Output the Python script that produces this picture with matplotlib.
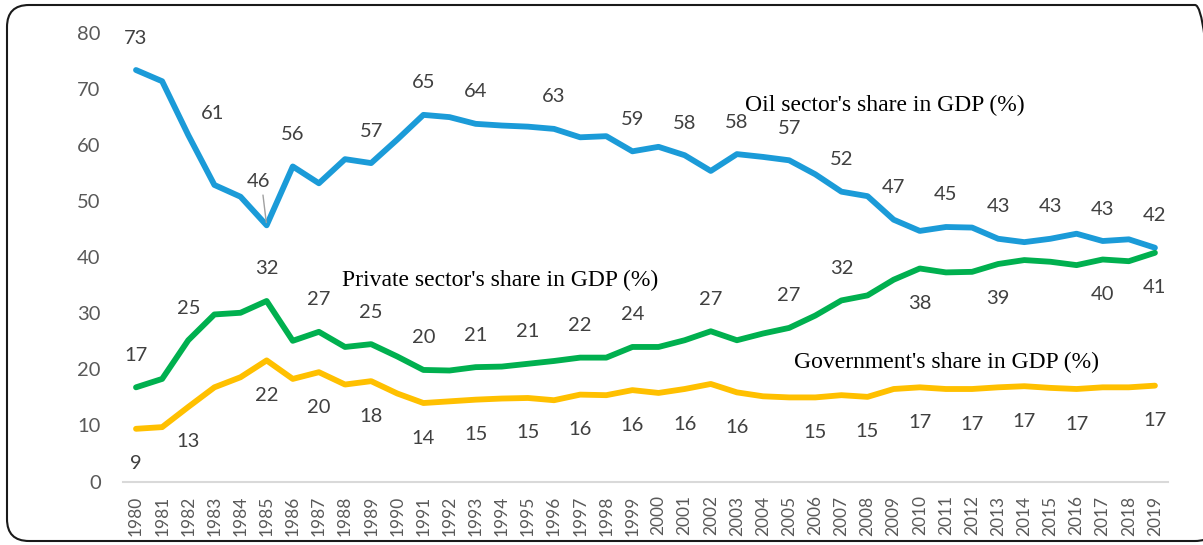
import matplotlib
matplotlib.use("Agg")
import matplotlib.pyplot as plt
from matplotlib.patches import FancyBboxPatch

years = list(range(1980, 2020))

oil_share = [73.4, 71.4, 61.8, 52.9, 50.8, 45.7, 56.2, 53.2, 57.5, 56.8,
             61.0, 65.4, 65.0, 63.8, 63.5, 63.3, 62.9, 61.4, 61.6, 58.9,
             59.7, 58.2, 55.4, 58.4, 57.9, 57.3, 54.8, 51.7, 50.9, 46.7,
             44.7, 45.4, 45.3, 43.3, 42.7, 43.3, 44.2, 42.9, 43.2, 41.7]
private_share = [16.8, 18.3, 25.2, 29.8, 30.1, 32.2, 25.1, 26.7, 24.0, 24.5,
                 22.3, 19.9, 19.8, 20.4, 20.5, 21.0, 21.5, 22.1, 22.1, 24.0,
                 24.0, 25.2, 26.8, 25.2, 26.4, 27.4, 29.6, 32.3, 33.2, 36.0,
                 38.0, 37.3, 37.4, 38.8, 39.5, 39.2, 38.6, 39.6, 39.3, 40.8]
gov_share = [9.4, 9.7, 13.3, 16.8, 18.6, 21.6, 18.3, 19.5, 17.3, 17.9,
             15.7, 14.0, 14.3, 14.6, 14.8, 14.9, 14.5, 15.5, 15.4, 16.3,
             15.8, 16.5, 17.4, 15.9, 15.2, 15.0, 15.0, 15.4, 15.1, 16.5,
             16.8, 16.5, 16.5, 16.8, 17.0, 16.7, 16.5, 16.8, 16.8, 17.1]

# data labels shown on the chart
oil_lbl_years = [1980, 1982, 1985, 1986, 1989, 1991, 1993, 1996, 1999, 2001,
                 2003, 2005, 2007, 2009, 2011, 2013, 2015, 2017, 2019]
oil_lbl_text = [73, 61, 46, 56, 57, 65, 64, 63, 59, 58,
                58, 57, 52, 47, 45, 43, 43, 43, 42]
private_lbl_years = [1980, 1982, 1985, 1987, 1989, 1991, 1993, 1995, 1997, 1999,
                     2002, 2005, 2007, 2010, 2013, 2017, 2019]
private_lbl_text = [17, 25, 32, 27, 25, 20, 21, 21, 22, 24,
                    27, 27, 32, 38, 39, 40, 41]
gov_lbl_years = [1980, 1982, 1985, 1987, 1989, 1991, 1993, 1995, 1997, 1999,
                 2001, 2003, 2006, 2008, 2010, 2012, 2014, 2016, 2019]
gov_lbl_text = [9, 13, 22, 20, 18, 14, 15, 15, 16, 16,
                16, 16, 15, 15, 17, 17, 17, 17, 17]

BLUE = "#1b9bd8"
GREEN = "#00b04f"
GOLD = "#ffc000"
LBL = "#404040"
num_font = ["Lato", "DejaVu Sans"]
serif_font = ["Liberation Serif", "DejaVu Serif"]

fig = plt.figure(figsize=(12.03, 5.45), dpi=100)
ax = fig.add_axes([0.1022, 0.1165, 0.8687, 0.8229])

for vals, col in [(oil_share, BLUE), (private_share, GREEN), (gov_share, GOLD)]:
    ax.plot(years, vals, color=col, lw=4.2, solid_joinstyle="round", solid_capstyle="round")


def put_labels(values, lbl_years, lbl_text, below_from=None, below_all=False, special=None):
    special = special or {}
    for yr, txt in zip(lbl_years, lbl_text):
        v = values[years.index(yr)]
        below = below_all or (below_from is not None and yr >= below_from)
        off = (0, -35) if below else (0, 32)
        if yr in special:
            off = special[yr]
        ax.annotate(str(txt), (yr, v), xytext=off, textcoords="offset pixels",
                    ha="center", va="center", fontsize=14.5, color=LBL,
                    family=num_font)


put_labels(oil_share, oil_lbl_years, oil_lbl_text, special={1982: (24, 22), 1985: (-8, 44)})
put_labels(private_share, private_lbl_years, private_lbl_text, below_from=2010)
put_labels(gov_share, gov_lbl_years, gov_lbl_text, below_all=True)

# leader line for the 1985 oil label
ax.annotate("", (1985, oil_share[5]), xytext=(-4, 33), textcoords="offset pixels",
            arrowprops=dict(arrowstyle="-", color="#a0a0a0", lw=1))

# series names
ax.text(2003.3, 67.0, "Oil sector's share in GDP (%)", fontsize=17, family=serif_font,
        color="black", va="center", ha="left")
ax.text(1987.9, 35.8, "Private sector's share in GDP (%)", fontsize=17, family=serif_font,
        color="black", va="center", ha="left")
ax.text(2005.2, 21.3, "Government's share in GDP (%)", fontsize=17, family=serif_font,
        color="black", va="center", ha="left")

ax.set_xlim(1979.5, 2019.5)
ax.set_ylim(0, 80)
ax.set_yticks(range(0, 81, 10))
ax.set_xticks(years)
ax.set_xticklabels([str(y) for y in years], rotation=90)
for lab in ax.get_yticklabels():
    lab.set_fontsize(14.5)
    lab.set_family(num_font)
    lab.set_color("#595959")
for lab in ax.get_xticklabels():
    lab.set_fontsize(12.5)
    lab.set_family(num_font)
    lab.set_color("#595959")
ax.tick_params(axis="y", length=0, pad=16)
ax.tick_params(axis="x", length=0, pad=10)
for s in ["top", "right", "left"]:
    ax.spines[s].set_visible(False)
ax.spines["bottom"].set_color("#d9d9d9")
ax.spines["bottom"].set_linewidth(1.5)

# rounded frame around the whole chart
frame = FancyBboxPatch((0.07, 0.04), 12.1, 5.36,
                       boxstyle="round,pad=0,rounding_size=0.22",
                       transform=fig.dpi_scale_trans, fill=False,
                       edgecolor="#1a1a1a", lw=1.5)
fig.patches.append(frame)

fig.savefig("out.png", dpi=100)
